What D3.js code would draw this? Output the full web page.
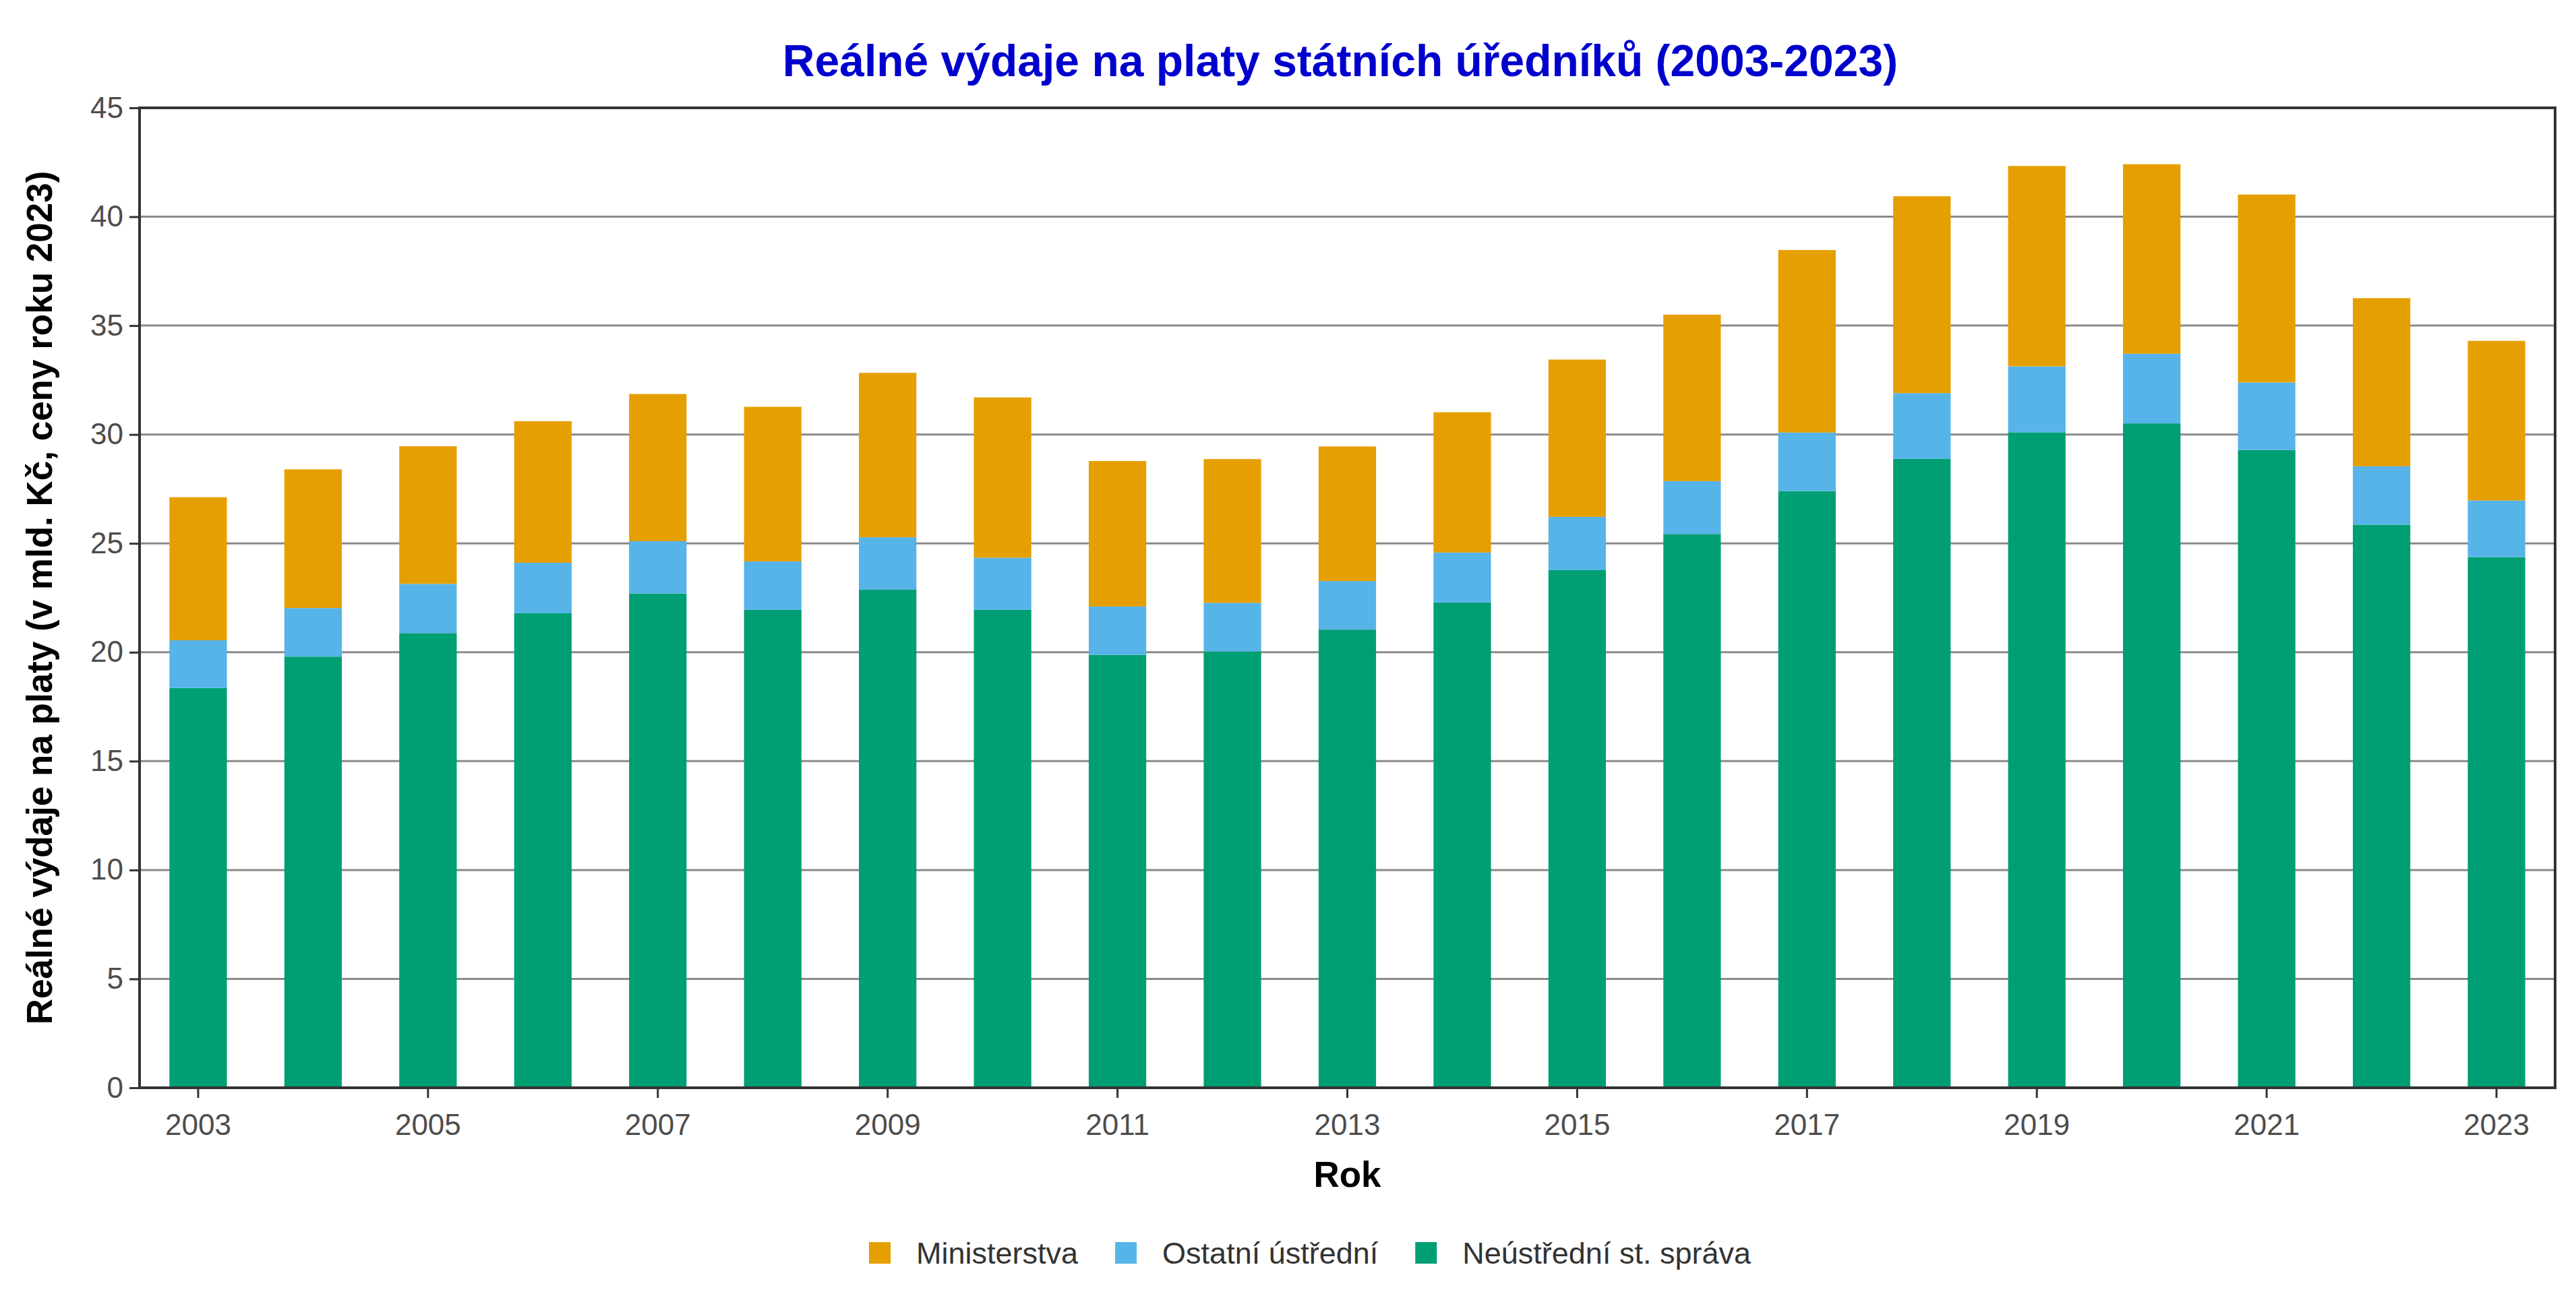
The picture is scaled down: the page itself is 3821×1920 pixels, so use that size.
<!DOCTYPE html>
<html>
<head>
<meta charset="utf-8">
<script src="https://cdn.jsdelivr.net/npm/d3@7"></script>
<style>
  body { margin: 0; background: #fff; }
  text { font-family: "Liberation Sans", Arial, sans-serif; }
</style>
</head>
<body>
<div id="chart"></div>
<script>
// Data (mld. Kč, ceny roku 2023)
const years = [2003, 2004, 2005, 2006, 2007, 2008, 2009, 2010, 2011, 2012, 2013,
               2014, 2015, 2016, 2017, 2018, 2019, 2020, 2021, 2022, 2023];
const neustredni = [18.36, 19.80, 20.88, 21.79, 22.70, 21.95, 22.87, 21.95, 19.88, 20.04, 21.04,
                    22.28, 23.77, 25.43, 27.40, 28.88, 30.10, 30.51, 29.29, 25.86, 24.37];
const ostatni = [2.19, 2.23, 2.26, 2.32, 2.40, 2.22, 2.41, 2.39, 2.22, 2.23, 2.23,
                 2.30, 2.45, 2.43, 2.69, 3.02, 3.03, 3.20, 3.10, 2.68, 2.60];
const ministerstva = [6.57, 6.37, 6.32, 6.50, 6.76, 7.10, 7.55, 7.36, 6.68, 6.60, 6.18,
                      6.44, 7.22, 7.64, 8.38, 9.04, 9.20, 8.70, 8.63, 7.72, 7.33];
const yTicks = [0, 5, 10, 15, 20, 25, 30, 35, 40, 45];
const xTicks = [2003, 2005, 2007, 2009, 2011, 2013, 2015, 2017, 2019, 2021, 2023];

const keys = ['neustredni', 'ostatni', 'ministerstva'];
const labels = {ministerstva: 'Ministerstva', ostatni: 'Ostatní ústřední', neustredni: 'Neústřední st. správa'};
const colors = {ministerstva: '#E69F00', ostatni: '#56B4E9', neustredni: '#009E73'};
const legendOrder = ['ministerstva', 'ostatni', 'neustredni'];

const data = years.map((yr, i) => ({
    year: yr,
    neustredni: neustredni[i],
    ostatni: ostatni[i],
    ministerstva: ministerstva[i]
}));

// Dimensions
const W = 3821, H = 1920;
const margin = {top: 160, right: 31, bottom: 306, left: 207};
const width = W - margin.left - margin.right;
const height = H - margin.top - margin.bottom;

const svg = d3.select('#chart')
    .append('svg')
    .attr('width', W)
    .attr('height', H);

const g = svg.append('g')
    .attr('transform', `translate(${margin.left}, ${margin.top})`);

// Scales
const x = d3.scaleBand()
    .domain(years)
    .range([0, width])
    .paddingInner(0.5)
    .paddingOuter(0.26);
const y = d3.scaleLinear()
    .domain([0, 45])
    .range([height, 0]);

// Gridlines
g.append('g')
    .selectAll('line')
    .data(yTicks)
    .enter()
    .append('line')
    .attr('x1', 0)
    .attr('x2', width)
    .attr('y1', d => y(d))
    .attr('y2', d => y(d))
    .style('stroke', '#8a8a8a')
    .style('stroke-width', 3);

// Stacked bars
const series = d3.stack().keys(keys)(data);

g.append('g')
    .selectAll('g')
    .data(series)
    .enter()
    .append('g')
    .attr('fill', d => colors[d.key])
    .selectAll('rect')
    .data(d => d)
    .enter()
    .append('rect')
    .attr('x', d => x(d.data.year))
    .attr('width', x.bandwidth())
    .attr('y', d => y(d[1]))
    .attr('height', d => y(d[0]) - y(d[1]));

// Axes
const yAxis = g.append('g')
    .call(d3.axisLeft(y).tickValues(yTicks).tickSize(15).tickPadding(9));
const xAxis = g.append('g')
    .attr('transform', `translate(0, ${height})`)
    .call(d3.axisBottom(x).tickValues(xTicks).tickSize(15).tickPadding(24));

[yAxis, xAxis].forEach(a => {
    a.select('.domain').remove();
    a.selectAll('.tick line').style('stroke', '#333').style('stroke-width', 3);
    a.selectAll('.tick text')
        .style('font-size', '44px')
        .style('fill', '#4d4d4d')
        .style('font-family', '"Liberation Sans", Arial, sans-serif');
});

// Panel border
g.append('rect')
    .attr('width', width)
    .attr('height', height)
    .style('fill', 'none')
    .style('stroke', '#333')
    .style('stroke-width', 4);

// Title
svg.append('text')
    .attr('x', 1988)
    .attr('y', 113)
    .attr('text-anchor', 'middle')
    .style('font-size', '66px')
    .style('font-weight', 'bold')
    .style('fill', '#0000CD')
    .text('Reálné výdaje na platy státních úředníků (2003-2023)');

// Axis titles
svg.append('text')
    .attr('x', margin.left + width / 2)
    .attr('y', 1761)
    .attr('text-anchor', 'middle')
    .style('font-size', '53px')
    .style('font-weight', 'bold')
    .text('Rok');

svg.append('text')
    .attr('transform', `translate(77, ${margin.top + height / 2}) rotate(-90)`)
    .attr('text-anchor', 'middle')
    .style('font-size', '53px')
    .style('font-weight', 'bold')
    .text('Reálné výdaje na platy (v mld. Kč, ceny roku 2023)');

// Legend
const legend = svg.append('g');
const keySize = 32, keyGap = 38, itemGap = 55, legendY = 1859;
let lx = 0;
legendOrder.forEach(k => {
    legend.append('rect')
        .attr('x', lx)
        .attr('y', legendY - keySize / 2)
        .attr('width', keySize)
        .attr('height', keySize)
        .attr('fill', colors[k]);
    const t = legend.append('text')
        .attr('x', lx + keySize + keyGap)
        .attr('y', legendY)
        .attr('dy', '0.35em')
        .style('font-size', '45px')
        .style('fill', '#333')
        .text(labels[k]);
    lx += keySize + keyGap + t.node().getComputedTextLength() + itemGap;
});
lx -= itemGap;
legend.attr('transform', `translate(${1943 - lx / 2}, 0)`);
</script>
</body>
</html>
